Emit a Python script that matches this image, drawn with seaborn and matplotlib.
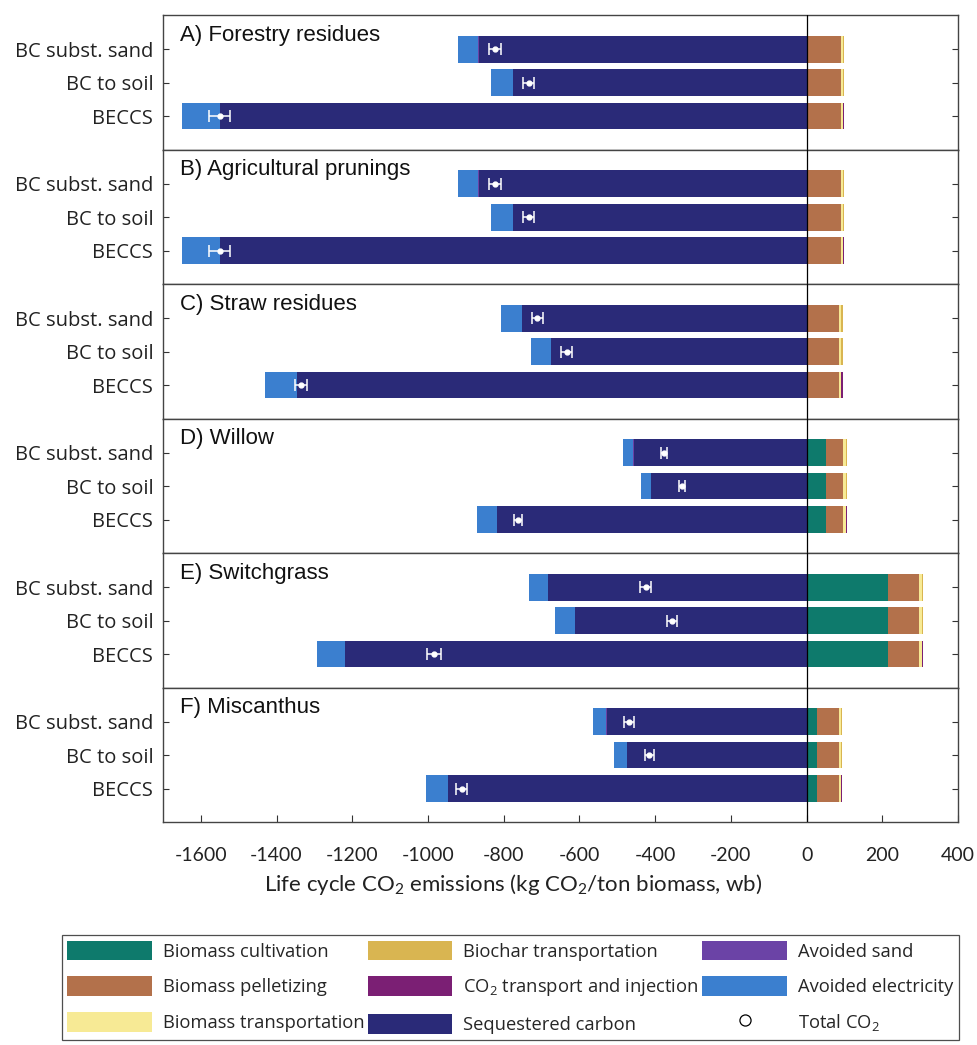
import numpy as np
import pandas as pd
import matplotlib
matplotlib.use("Agg")
import matplotlib.pyplot as plt
from matplotlib.patches import Patch
from matplotlib.lines import Line2D
import seaborn as sns

# ---- data (kg CO2 / ton biomass, wb) ----
feedstocks = ["A) Forestry residues", "B) Agricultural prunings", "C) Straw residues",
              "D) Willow", "E) Switchgrass", "F) Miscanthus"]
pathways = ["BC subst. sand", "BC to soil", "BECCS"]

# emissions common to all pathways of a feedstock
cultivation = [0, 0, 0, 50, 216, 28]
pelletizing = [90, 90, 85, 47, 80, 57]
biomass_transport = [6, 6, 7, 8, 9, 6]

# pathway specific items
biochar_transport = [3, 3, 0]
co2_transport = [0, 0, 3]
avoided_sand = [-2, 0, 0]

# rows: feedstock, columns: pathway
avoided_electricity = [[-54, -57, -100],
                       [-54, -57, -100],
                       [-53, -54, -85],
                       [-27, -27, -53],
                       [-49, -51, -73],
                       [-33, -34, -57]]
sequestered_carbon = [[-866, -776, -1549],
                      [-866, -776, -1549],
                      [-751, -675, -1346],
                      [-456, -410, -817],
                      [-682, -613, -1219],
                      [-528, -475, -948]]
total_error = [[16, 15, 28],
               [16, 15, 28],
               [14, 14, 16],
               [8, 8, 10],
               [15, 13, 18],
               [12, 11, 14]]

colors = {
    "Biomass cultivation": "#0e7a6c",
    "Biomass pelletizing": "#b3714b",
    "Biomass transportation": "#f7ea95",
    "Biochar transportation": "#d9b551",
    "CO$_2$ transport and injection": "#7b1f74",
    "Sequestered carbon": "#2a2a78",
    "Avoided sand": "#6b43a6",
    "Avoided electricity": "#3b7fcf",
}

sns.set_style("white")
plt.rcParams["font.family"] = ["Lato", "DejaVu Sans"]
plt.rcParams["mathtext.default"] = "regular"
label_font = ["Open Sans", "DejaVu Sans"]

fig, axes = plt.subplots(6, 1, figsize=(9.77, 10.45), dpi=100, sharex=True,
                         gridspec_kw=dict(hspace=0))
fig.subplots_adjust(left=0.1668, right=0.9806, top=0.9856, bottom=0.2134)

for i, ax in enumerate(axes):
    cult = np.full(3, cultivation[i], float)
    pel = np.full(3, pelletizing[i], float)
    bt = np.full(3, biomass_transport[i], float)
    bct = np.array(biochar_transport, float)
    co2 = np.array(co2_transport, float)
    sand = np.array(avoided_sand, float)
    elec = np.array(avoided_electricity[i], float)
    seq = np.array(sequestered_carbon[i], float)

    p1 = cult
    p2 = p1 + pel
    p3 = p2 + bt
    p4 = p3 + bct
    p5 = p4 + co2
    n1 = seq
    n2 = n1 + sand
    n3 = n2 + elec
    total = p5 + n3

    df = pd.DataFrame({"pathway": pathways, "p1": p1, "p2": p2, "p3": p3, "p4": p4,
                       "p5": p5, "n1": n1, "n2": n2, "n3": n3})

    # cumulative layers, outermost first so inner segments sit on top
    layers = [("p5", "CO$_2$ transport and injection"),
              ("p4", "Biochar transportation"),
              ("p3", "Biomass transportation"),
              ("p2", "Biomass pelletizing"),
              ("p1", "Biomass cultivation"),
              ("n3", "Avoided electricity"),
              ("n2", "Avoided sand"),
              ("n1", "Sequestered carbon")]
    for col, name in layers:
        sns.barplot(data=df, x=col, y="pathway", order=pathways, orient="h",
                    color=colors[name], saturation=1, width=0.8, errorbar=None,
                    linewidth=0, ax=ax)

    ax.errorbar(total, np.arange(3), xerr=np.array(total_error[i]), fmt="o",
                color="white", ms=3.5, ecolor="white", elinewidth=1.1,
                capsize=4.5, capthick=1.1, zorder=6)
    ax.axvline(0, color="black", lw=0.9, zorder=5)

    ax.set_ylim(3.0, -1.02)
    ax.set_yticks(range(3))
    ax.set_yticklabels(pathways, fontsize=14.5, color="#222222", family=label_font)
    ax.set_xlabel("")
    ax.set_ylabel("")
    ax.text(0.022, 0.85, feedstocks[i], transform=ax.transAxes, fontsize=16,
            family=["Liberation Sans Narrow", "Liberation Sans", "DejaVu Sans"],
            va="center", ha="left", color="#111111")
    ax.tick_params(axis="y", direction="in", length=4, left=True, right=True,
                   width=0.8, color="#333333", pad=7)
    ax.tick_params(axis="x", direction="in", length=5, bottom=(i == 5), top=False,
                   width=0.8, color="#333333", labelsize=14, labelcolor="#222222", pad=18)
    for s in ax.spines.values():
        s.set_color("#444444")
        s.set_linewidth(1.0)

axes[-1].set_xlim(-1700, 400)
axes[-1].set_xticks(np.arange(-1600, 401, 200))
axes[-1].set_xticklabels([str(v) for v in np.arange(-1600, 401, 200)])
axes[-1].set_xlabel("Life cycle CO$_2$ emissions (kg CO$_2$/ton biomass, wb)",
                    fontsize=16, color="#222222", labelpad=6)
axes[-1].xaxis.label.set_x(0.44)

legend_order = ["Biomass cultivation", "Biomass pelletizing", "Biomass transportation",
                "Biochar transportation", "CO$_2$ transport and injection", "Sequestered carbon",
                "Avoided sand", "Avoided electricity"]
handles = [Patch(facecolor=colors[n], edgecolor="none", label=n) for n in legend_order]
handles.append(Line2D([], [], marker="o", ls="none", mfc="white", mec="black",
                      mew=0.9, ms=8, label="Total CO$_2$"))
leg = fig.legend(handles=handles, ncol=3, loc="upper left",
                 bbox_to_anchor=(62 / 977, 1 - 935 / 1045), borderaxespad=0,
                 handlelength=4.6, handleheight=1.3,
                 labelspacing=0.85, columnspacing=0.2, handletextpad=0.6,
                 borderpad=0.3, frameon=True, fancybox=False,
                 prop=dict(family=label_font, size=13.2))
leg.get_frame().set_edgecolor("#222222")
leg.get_frame().set_linewidth(0.9)

fig.savefig("out.png", dpi=100)
